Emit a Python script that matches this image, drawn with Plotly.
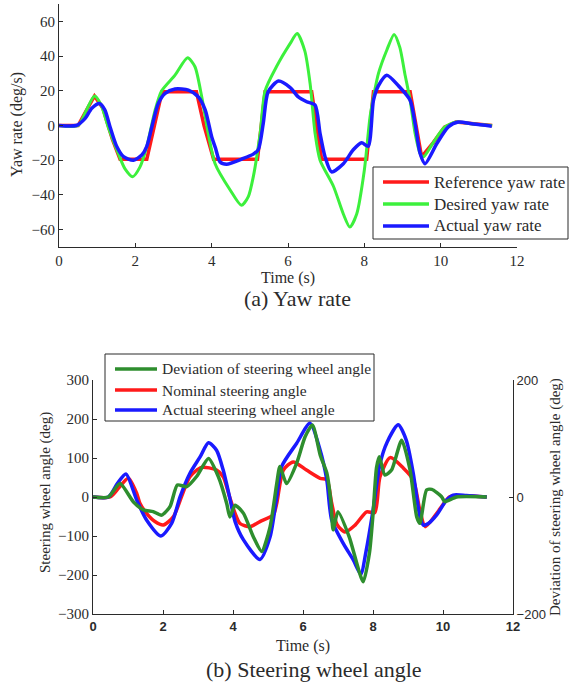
import plotly.graph_objects as go

# ---------------- (a) Yaw rate ----------------
ref_t = [0, 0.5, 0.7, 0.93, 1.15, 1.4, 1.6, 2.3, 2.5, 2.7, 3.6, 3.8, 4.05, 5.2, 5.3, 5.4,
         6.62, 6.75, 6.88, 8.06, 8.15, 8.24, 9.2, 9.35, 9.5, 9.8, 10.1, 10.4, 10.8, 11.35]
ref_v = [0, 0, 8, 17, 10, -8, -19.5, -19.5, 0, 19.5, 19.5, 0, -19.5, -19.5, 0, 19.5,
         19.5, 0, -19.5, -19.5, 0, 19.5, 19.5, 0, -18, -10, -1, 2, 1, 0]

des_t = [0, 0.5, 0.7, 0.93, 1.1, 1.29, 1.55, 1.73, 1.93, 2.12, 2.3, 2.52, 2.69, 3.04, 3.37,
         3.56, 3.74, 3.91, 4.09, 4.48, 4.78, 4.96, 5.09, 5.27, 5.4, 5.7, 6.05, 6.24, 6.44,
         6.58, 6.71, 6.84, 7.19, 7.45, 7.62, 7.8, 8.0, 8.15, 8.24, 8.37, 8.59, 8.78, 8.93,
         9.06, 9.2, 9.33, 9.46, 9.55, 9.8, 10.1, 10.4, 10.8, 11.35]
des_v = [0, 0, 8, 17, 12, -1, -16, -25, -29.5, -24, -12, 9, 20, 29, 39,
         34, 16.5, -4.6, -22, -37, -46, -41, -29.6, -4.6, 20, 34, 47, 53, 43,
         24, -4.6, -20, -35, -51, -58.5, -51, -25.8, 5, 16.5, 30, 43.5, 52.5, 45,
         30, 14.6, -4.6, -16, -18, -10, -1, 2, 1, 0]

act_t = [0, 0.45, 0.68, 0.86, 1.06, 1.2, 1.34, 1.51, 1.69, 1.95, 2.17, 2.3, 2.43, 2.6, 2.78,
         3.04, 3.39, 3.65, 3.83, 4.0, 4.1, 4.22, 4.39, 4.83, 5.09, 5.22, 5.35, 5.48, 5.75,
         6.05, 6.27, 6.49, 6.71, 6.84, 6.97, 7.14, 7.45, 7.71, 7.93, 8.1, 8.24, 8.37, 8.59,
         8.93, 9.2, 9.33, 9.46, 9.59, 9.9, 10.2, 10.46, 10.86, 11.34]
act_v = [0, 0, 4, 10, 12.7, 9, -1, -12, -18, -20, -17, -12, -1, 12.7, 18.5,
         21, 20.4, 16.5, 9, -6.5, -13, -21, -22.3, -19, -16.5, -14, 1, 19.4, 25.6,
         22, 16.5, 13.7, 11.7, -4.6, -18, -26.7, -22, -14, -10, -12, 14.6, 23, 29,
         22, 14.6, 1, -16, -22, -10.4, -0.8, 2, 0.8, -0.4]

# ---------------- (b) Steering wheel angle ----------------
nom_t = [0, 0.49, 0.75, 1.01, 1.25, 1.34, 1.53, 1.77, 2.01, 2.3, 2.53, 2.77, 3.1, 3.53, 3.72,
         3.9, 4.06, 4.2, 4.49, 4.77, 5.15, 5.25, 5.44, 5.72, 6.1, 6.49, 6.68, 6.82, 6.97,
         7.2, 7.49, 7.82, 8.05, 8.2, 8.49, 8.87, 9.15, 9.34, 9.49, 9.82, 10.2, 10.6, 11.25]
nom_v = [0, 0, 25, 48, 9, -16, -42, -63, -72, -50, 1, 52, 76, 69, 52,
         1, -42, -68, -76, -63, -46, -16, 69, 90, 69, 48, 44, -16, -70,
         -90, -72, -38, -40, 52, 101, 74, 44, -34, -76, -42, 1, 3, 0]

asw_t = [0, 0.44, 0.7, 0.94, 1.25, 1.53, 1.94, 2.25, 2.49, 2.77, 3.06, 3.3, 3.53, 3.72, 3.9,
         4.06, 4.3, 4.77, 5.06, 5.25, 5.39, 5.82, 6.2, 6.49, 6.68, 6.82, 7.15, 7.44, 7.65,
         7.8, 8.0, 8.2, 8.4, 8.72, 8.95, 9.15, 9.34, 9.44, 9.58, 9.82, 10.1, 10.29, 10.67, 11.25]
asw_v = [0, 0, 35, 59, -8, -59, -100, -67, 1, 61, 103, 139, 120, 69, 1,
         -63, -110, -160, -102, 1, 78, 138, 189, 120, 44, -59, -119, -162, -198,
         -140, -35, 85, 140, 185, 146, 61, -50, -72, -68, -46, -8, 5, 4, 0]

dev_t = [0, 0.44, 0.77, 1.15, 1.44, 1.72, 1.96, 2.2, 2.41, 2.68, 2.96, 3.3, 3.58, 3.82, 3.91,
         4.06, 4.3, 4.58, 4.82, 5.06, 5.25, 5.34, 5.53, 5.82, 6.06, 6.27, 6.5, 6.68, 6.8,
         6.86, 7.0, 7.32, 7.72, 7.9, 8.0, 8.1, 8.18, 8.34, 8.53, 8.82, 9.06, 9.25, 9.34,
         9.53, 9.68, 9.96, 10.05, 10.39, 11.25]
dev_v = [0, 0, 23, -8, -22, -25, -31, -16.5, 20.5, 17.7, 35, 66, 35, -11, -34,
         -14, -28, -68, -93, -51, 23, 52, 23, 58, 103, 123, 70, 41, -10,
         -56, -25, -68, -145, -95, -30, 50, 69, 37.6, 46, 97, 46, -34, -45,
         12, 13, 0.5, -8, 0, 0]

yaw_ticks = [-60, -40, -20, 0, 20, 40, 60]
time_ticks = [0, 2, 4, 6, 8, 10, 12]
swa_ticks = [-300, -200, -100, 0, 100, 200, 300]
dev_ticks = [-200, 0, 200]

yaw_names = ["Reference yaw rate", "Desired yaw rate", "Actual yaw rate"]
swa_names = ["Deviation of steering wheel angle", "Nominal steering angle",
             "Actual steering wheel angle"]

W, H = 570, 688
SERIF = "Liberation Serif"
SANS = "Liberation Sans"
INK = "#2b2b2b"
RED, LGREEN, BLUE, DGREEN = "#ff1a1a", "#3cf03c", "#1a1aff", "#2e8e2e"


def px(x0, x1):
    return [x0 / W, x1 / W]


def py(top, bottom):
    return [1 - bottom / H, 1 - top / H]


fig = go.Figure()

fig.add_trace(go.Scatter(x=ref_t, y=ref_v, name=yaw_names[0], mode="lines",
                         line=dict(color=RED, width=3.5), xaxis="x", yaxis="y"))
fig.add_trace(go.Scatter(x=des_t, y=des_v, name=yaw_names[1], mode="lines",
                         line=dict(color=LGREEN, width=3, shape="spline", smoothing=0.7),
                         xaxis="x", yaxis="y"))
fig.add_trace(go.Scatter(x=act_t, y=act_v, name=yaw_names[2], mode="lines",
                         line=dict(color=BLUE, width=3.5, shape="spline", smoothing=0.7),
                         xaxis="x", yaxis="y"))

fig.add_trace(go.Scatter(x=nom_t, y=nom_v, name=swa_names[1], mode="lines",
                         line=dict(color=RED, width=3.5, shape="spline", smoothing=0.7),
                         xaxis="x2", yaxis="y2"))
fig.add_trace(go.Scatter(x=asw_t, y=asw_v, name=swa_names[2], mode="lines",
                         line=dict(color=BLUE, width=3.5, shape="spline", smoothing=0.7),
                         xaxis="x2", yaxis="y2"))
fig.add_trace(go.Scatter(x=dev_t, y=dev_v, name=swa_names[0], mode="lines",
                         line=dict(color=DGREEN, width=3.5, shape="spline", smoothing=0.6),
                         xaxis="x2", yaxis="y3"))

axis_common = dict(showline=True, linecolor=INK, linewidth=1, ticks="inside", ticklen=4,
                   tickcolor=INK, showgrid=False, zeroline=False, mirror=False,
                   automargin=False)

fig.update_layout(
    template="none",
    width=W, height=H, margin=dict(l=0, r=0, t=0, b=0, pad=0, autoexpand=False),
    paper_bgcolor="white", plot_bgcolor="white", showlegend=False,
    xaxis=dict(domain=px(59, 517), range=[0, 12], tickvals=time_ticks, anchor="y",
               tickfont=dict(family=SERIF, size=15, color=INK), **axis_common),
    yaxis=dict(domain=py(4, 247), range=[-70, 70], tickvals=yaw_ticks, anchor="x",
               tickfont=dict(family=SERIF, size=15, color=INK), **axis_common),
    xaxis2=dict(domain=px(93, 513), range=[0, 12], tickvals=time_ticks, anchor="y2",
                tickfont=dict(family=SANS, size=13, color=INK, weight="bold"), **axis_common),
    yaxis2=dict(domain=py(380, 614), range=[-300, 300], tickvals=swa_ticks, anchor="x2",
                tickfont=dict(family=SERIF, size=15, color=INK), **axis_common),
    yaxis3=dict(range=[-200, 200], tickvals=dev_ticks, overlaying="y2", side="right",
                anchor="x2", tickfont=dict(family=SANS, size=13, color=INK), **axis_common),
)


def note(text, x, y, size, angle=0, family=SERIF, anchor="center"):
    fig.add_annotation(text=text, x=x / W, y=1 - y / H, xref="paper", yref="paper",
                       showarrow=False, textangle=angle, xanchor=anchor, yanchor="middle",
                       font=dict(family=family, size=size, color=INK))


def legend_box(x0, y0, x1, y1, rows, names, colors, lx0, lx1, tx, size):
    fig.add_shape(type="rect", xref="paper", yref="paper",
                  x0=x0 / W, x1=x1 / W, y0=1 - y1 / H, y1=1 - y0 / H,
                  line=dict(color=INK, width=1), fillcolor="white", layer="above")
    for ry, name, col in zip(rows, names, colors):
        fig.add_shape(type="line", xref="paper", yref="paper",
                      x0=lx0 / W, x1=lx1 / W, y0=1 - ry / H, y1=1 - ry / H,
                      line=dict(color=col, width=3.5), layer="above")
        note(name, tx, ry, size, anchor="left")


legend_box(373, 167, 568, 239, [182, 204, 226], yaw_names, [RED, LGREEN, BLUE],
           383, 429, 432, 17)
legend_box(105, 354, 374, 421, [369, 390, 410], swa_names, [DGREEN, RED, BLUE],
           115, 157, 160, 15.5)

note("Yaw rate (deg/s)", 17, 125, 16, -90)
note("Time (s)", 288, 278, 16)
note("(a) Yaw rate", 297, 298, 22)
note("Steering wheel angle (deg)", 45, 493, 15, -90)
note("Deviation of steering wheel angle (deg)", 556, 497, 15, -90)
note("Time (s)", 303, 646, 16)
note("(b) Steering wheel angle", 314, 669, 22)

fig.write_html(
    "out.html",
    config={"displayModeBar": False},
    post_script="document.body.style.margin='0';document.body.style.overflow='hidden';",
)
